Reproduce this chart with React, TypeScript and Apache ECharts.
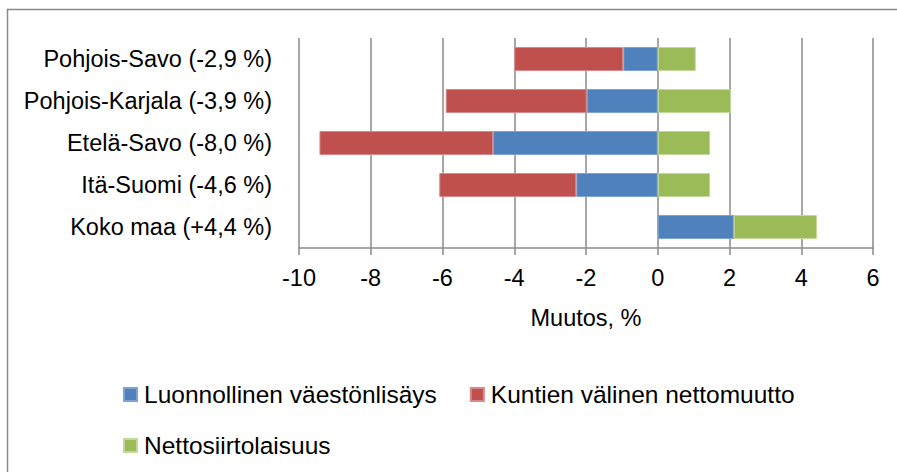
import React, { useEffect, useRef } from "react";
import * as echarts from "echarts";

const categories = [
  "Pohjois-Savo (-2,9 %)",
  "Pohjois-Karjala (-3,9 %)",
  "Etelä-Savo (-8,0 %)",
  "Itä-Suomi (-4,6 %)",
  "Koko maa (+4,4 %)",
];
const luonnollinen = [-0.96, -1.98, -4.59, -2.27, 2.12];
const kuntienValinen = [-3.04, -3.93, -4.84, -3.82, 0];
const nettosiirto = [1.06, 2.04, 1.46, 1.46, 2.32];
const seriesNames = [
  "Luonnollinen väestönlisäys",
  "Kuntien välinen nettomuutto",
  "Nettosiirtolaisuus",
];
const xTicks = { min: -10, max: 6, interval: 2 };

const FONT = "'Liberation Sans', Arial, sans-serif";
const FS = 23.5;
const LFS = 24.5;

export default function App() {
  const ref = useRef<HTMLDivElement>(null);
  useEffect(() => {
    if (!ref.current) return;
    const chart = echarts.init(ref.current, undefined, { renderer: "svg" });
    const mk = (name: string, data: number[], color: string, border: string) => ({
      name,
      type: "bar",
      stack: "total",
      data,
      barWidth: 24,
      itemStyle: { color, borderColor: border, borderWidth: 1 },
    });
    const legendText = { fontSize: LFS, color: "#000", fontFamily: FONT, padding: [0, 0, 0, 2] };
    chart.setOption({
      animation: false,
      textStyle: { fontFamily: FONT },
      graphic: [
        {
          type: "rect",
          shape: { x: 7.5, y: 9.5, width: 1000, height: 1000 },
          style: { fill: "none", stroke: "#8a8a8a", lineWidth: 1.5 },
          silent: true,
          z: -1,
        },
      ],
      legend: [
        {
          left: 118,
          top: 377,
          itemWidth: 13,
          itemHeight: 13,
          itemGap: 33,
          icon: "rect",
          data: [seriesNames[0], seriesNames[1]],
          textStyle: legendText,
        },
        {
          left: 118,
          top: 428,
          itemWidth: 13,
          itemHeight: 13,
          icon: "rect",
          data: [seriesNames[2]],
          textStyle: legendText,
        },
      ],
      grid: { left: 299, right: 24, top: 38, bottom: 224, outerBoundsMode: "none", containLabel: false },
      xAxis: {
        type: "value",
        min: xTicks.min,
        max: xTicks.max,
        interval: xTicks.interval,
        name: "Muutos, %",
        nameLocation: "middle",
        nameGap: 58,
        nameTextStyle: { fontSize: FS, color: "#000", fontFamily: FONT },
        axisLine: { show: true, lineStyle: { color: "#8a8a8a", width: 1.5 } },
        axisTick: { show: true, length: 7, lineStyle: { color: "#8a8a8a", width: 1.5 } },
        splitLine: { show: true, lineStyle: { color: "#8a8a8a", width: 1.5 } },
        axisLabel: { fontSize: FS, color: "#000", margin: 18, fontFamily: FONT },
      },
      yAxis: {
        type: "category",
        data: categories,
        inverse: true,
        axisLine: { show: false },
        axisTick: { show: false },
        axisLabel: { fontSize: FS, color: "#000", margin: 27, fontFamily: FONT },
      },
      series: [
        mk(seriesNames[0], luonnollinen, "#4F81BD", "#7da2d4"),
        mk(seriesNames[1], kuntienValinen, "#C0504D", "#d98a88"),
        mk(seriesNames[2], nettosiirto, "#9BBB59", "#c3d99a"),
      ],
    });
    return () => chart.dispose();
  }, []);
  return (
    <div
      ref={ref}
      style={{ position: "fixed", left: 0, top: 0, width: 897, height: 472, background: "#fff" }}
    />
  );
}
